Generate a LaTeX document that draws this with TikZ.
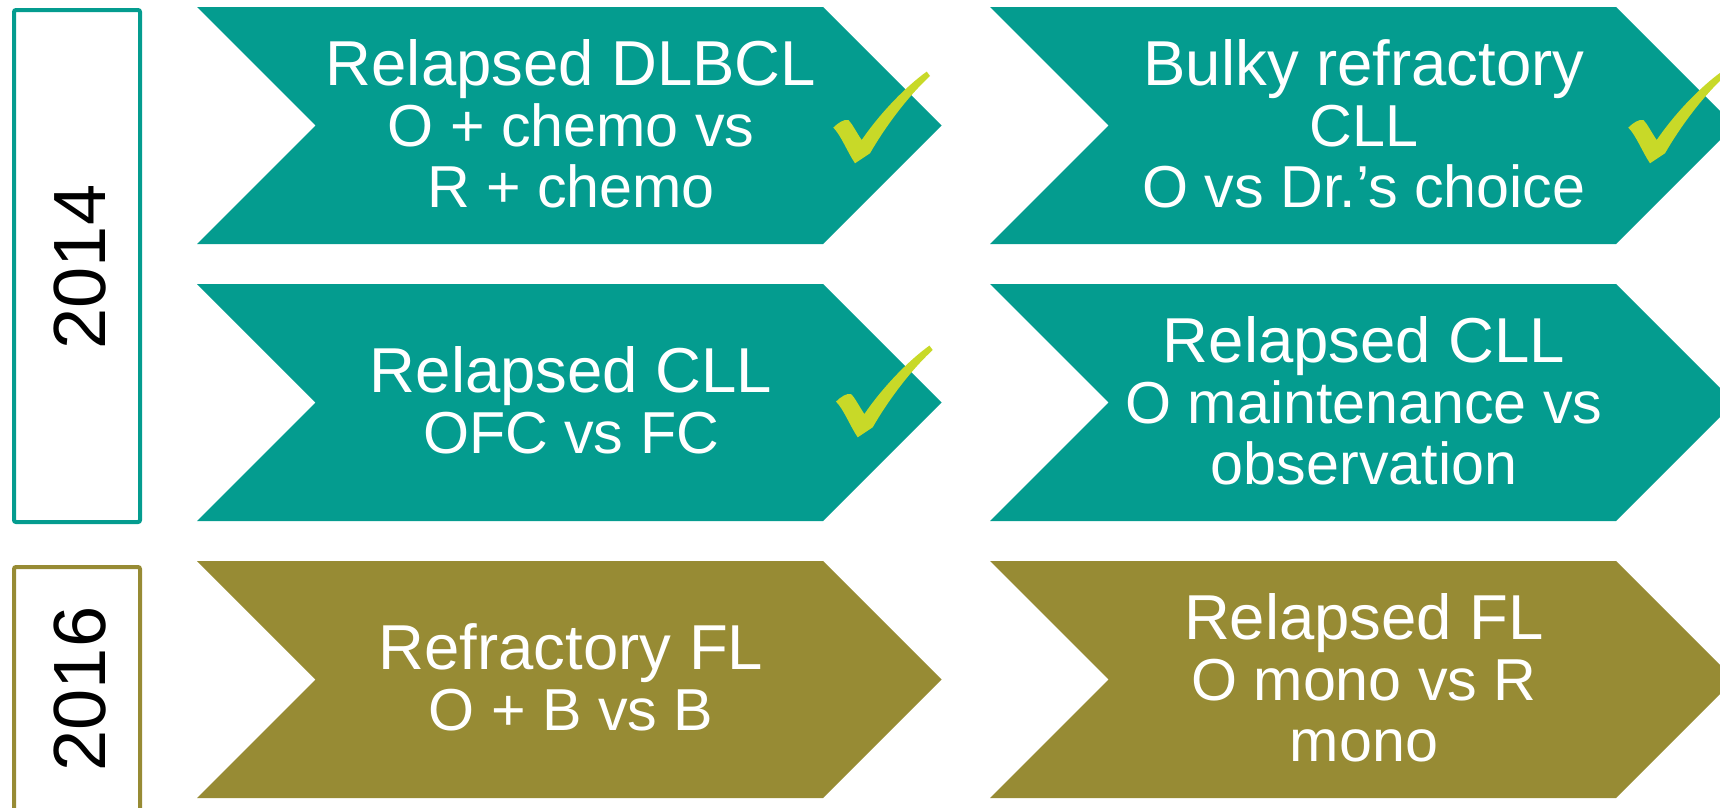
\documentclass[tikz,border=0pt]{standalone}
\usepackage{fontspec}
\setmainfont{Liberation Sans}
\definecolor{teal1}{HTML}{049C8F}
\definecolor{olive1}{HTML}{978B34}
\definecolor{lime1}{HTML}{C8D928}
\newcommand{\ls}{\rule[-7.5pt]{0pt}{45.8pt}}
\newcommand{\bigtxt}{\fontsize{47.6pt}{45.75pt}\selectfont\lineskiplimit=-100pt\relax}
\newcommand{\sm}{\fontsize{44.4pt}{45.75pt}\selectfont\lineskiplimit=-100pt\relax}
\tikzset{
  chevshape/.style={fill=#1},
  lbl/.style={text=white, align=center, inner sep=0pt, font=\bigtxt},
  yearlbl/.style={inner sep=0pt, rotate=90, text height=39.7pt, text depth=0pt, font=\fontsize{55.5pt}{60pt}\selectfont},
  yearbox/.style={draw=#1, line width=3pt, rounded corners=1.5pt},
  chk/.pic={\fill[lime1] (0,0) .. controls (-8,-12) and (-14,-28) .. (-21.7,-35.7)
      .. controls (-17,-40.5) and (-10.5,-44.5) .. (-6.7,-43.3)
      .. controls (-3,-40) and (2,-30) .. (6.7,-23.3)
      .. controls (25,-50) and (50,-76) .. (71.7,-91.7) -- (75,-87.3)
      .. controls (52,-66) and (30,-36) .. (15,-10) -- cycle;}
}
\begin{document}
\lineskiplimit=-100pt
\begin{tikzpicture}[x=0.75pt, y=-0.75pt]
\useasboundingbox (0,0) rectangle (1720,807);
\clip (0,0) rectangle (1720,807);
% year boxes
\draw[yearbox=teal1] (14,10) rectangle (140,522);
\node[yearlbl] (y2014) at (79,267) {2014};
\draw[yearbox=olive1] (14,567) rectangle (140,840);
\node[yearlbl] (y2016) at (79,689) {2016};
% chevrons
\foreach \l/\t/\c in {197/7/teal1, 990/7/teal1, 197/284/teal1, 990/284/teal1, 197/561/olive1, 990/561/olive1}{
  \fill[chevshape=\c] (\l,\t) -- ++(626,0) -- ++(118.5,118.5) -- ++(-118.5,118.5) -- ++(-626,0) -- ++(118.5,-118.5) -- cycle;
}
% labels
\node[lbl] (t11) at (571,125.5) {\ls Relapsed DLBCL\\ \sm\ls O + chemo vs\\ \sm\ls R + chemo};
\node[lbl] (t12) at (1364,125.5) {\ls Bulky refractory\\ \sm\ls CLL\\ \sm\ls O vs Dr.’s choice};
\node[lbl] (t21) at (571,402.5) {\ls Relapsed CLL\\ \sm\ls OFC vs FC};
\node[lbl] (t22) at (1364,402.5) {\ls Relapsed CLL\\ \sm\ls O maintenance vs\\ \sm\ls observation};
\node[lbl] (t31) at (571,679.5) {\ls Refractory FL\\ \sm\ls O + B vs B};
\node[lbl] (t32) at (1364,679.5) {\ls Relapsed FL\\ \sm\ls O mono vs R\\ \sm\ls mono};
% check marks
\pic at (855,163.3) {chk};
\pic at (857.7,437.3) {chk};
\pic at (1650,163.3) {chk};
\end{tikzpicture}
\end{document}
